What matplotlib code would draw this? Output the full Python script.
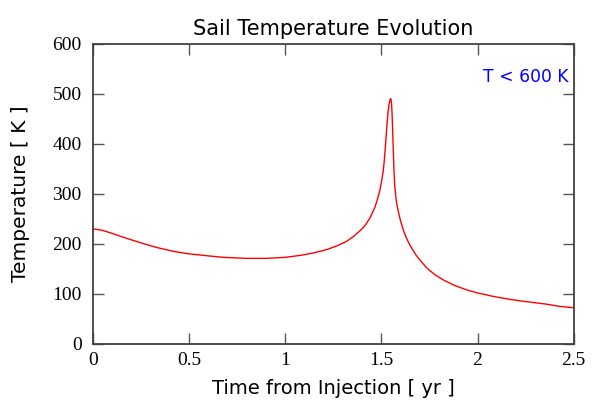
import matplotlib.pyplot as plt

# curve (time in yr, temperature in K)
time_yr = [0.0, 0.05, 0.1, 0.16, 0.25, 0.33, 0.42, 0.5, 0.6, 0.68, 0.8, 0.9,
           1.0, 1.08, 1.15, 1.22, 1.27, 1.32, 1.36, 1.4, 1.42, 1.44, 1.467,
           1.48, 1.493, 1.503, 1.51, 1.515, 1.52, 1.525, 1.53, 1.535, 1.54,
           1.545, 1.549, 1.553, 1.556, 1.559, 1.562, 1.566, 1.57, 1.575,
           1.58, 1.59, 1.6, 1.614, 1.63, 1.645, 1.66, 1.68, 1.7, 1.736,
           1.78, 1.822, 1.88, 1.944, 2.0, 2.082, 2.17, 2.255, 2.35, 2.43, 2.5]
temp_k = [230, 227, 221, 213, 202, 193, 185, 180, 176, 173, 171, 171,
          173, 177, 182, 189, 196, 205, 216, 230, 239, 251, 273,
          289, 308, 328, 346, 364, 388, 414, 441, 463, 478,
          487, 490, 482, 460, 427, 390, 345, 315, 295,
          281, 262, 246, 228, 212, 200, 190, 178, 168, 152,
          138, 128, 117, 108, 102, 95, 89, 84.5, 80, 75, 72.5]

text_font = 'DejaVu Sans'
num_font = 'Liberation Serif'

fig = plt.figure(figsize=(6.02, 4.01), dpi=100)
ax = fig.add_axes([92.7 / 602, 1 - 344 / 401, 481 / 602, 300.5 / 401])

ax.plot(time_yr, temp_k, color='red', linewidth=1.0)

ax.set_xlim(0, 2.5)
ax.set_ylim(0, 600)
ax.set_xticks([0, 0.5, 1, 1.5, 2, 2.5])
ax.set_xticklabels(['0', '0.5', '1', '1.5', '2', '2.5'])
ax.set_yticks([0, 100, 200, 300, 400, 500, 600])

ax.tick_params(direction='in', length=8, width=1, color='#555555',
               top=True, right=True, labelsize=14)
ax.tick_params(axis='y', pad=8)
ax.tick_params(axis='x', pad=6)
for lab in ax.get_xticklabels() + ax.get_yticklabels():
    lab.set_fontfamily(num_font)

for sp in ax.spines.values():
    sp.set_color('#404040')
    sp.set_linewidth(1.3)

ax.set_title('Sail Temperature Evolution', fontsize=15, family=text_font, pad=6)
ax.set_xlabel('Time from Injection [ yr ]', fontsize=14, family=text_font, labelpad=7)
ax.set_ylabel('Temperature [ K ]', fontsize=14.5, family=text_font, labelpad=16)

ax.text(0.99, 0.888, 'T < 600 K', transform=ax.transAxes, ha='right', va='center',
        color='blue', fontsize=12.3, family=text_font)

fig.savefig('out.png', dpi=100)
